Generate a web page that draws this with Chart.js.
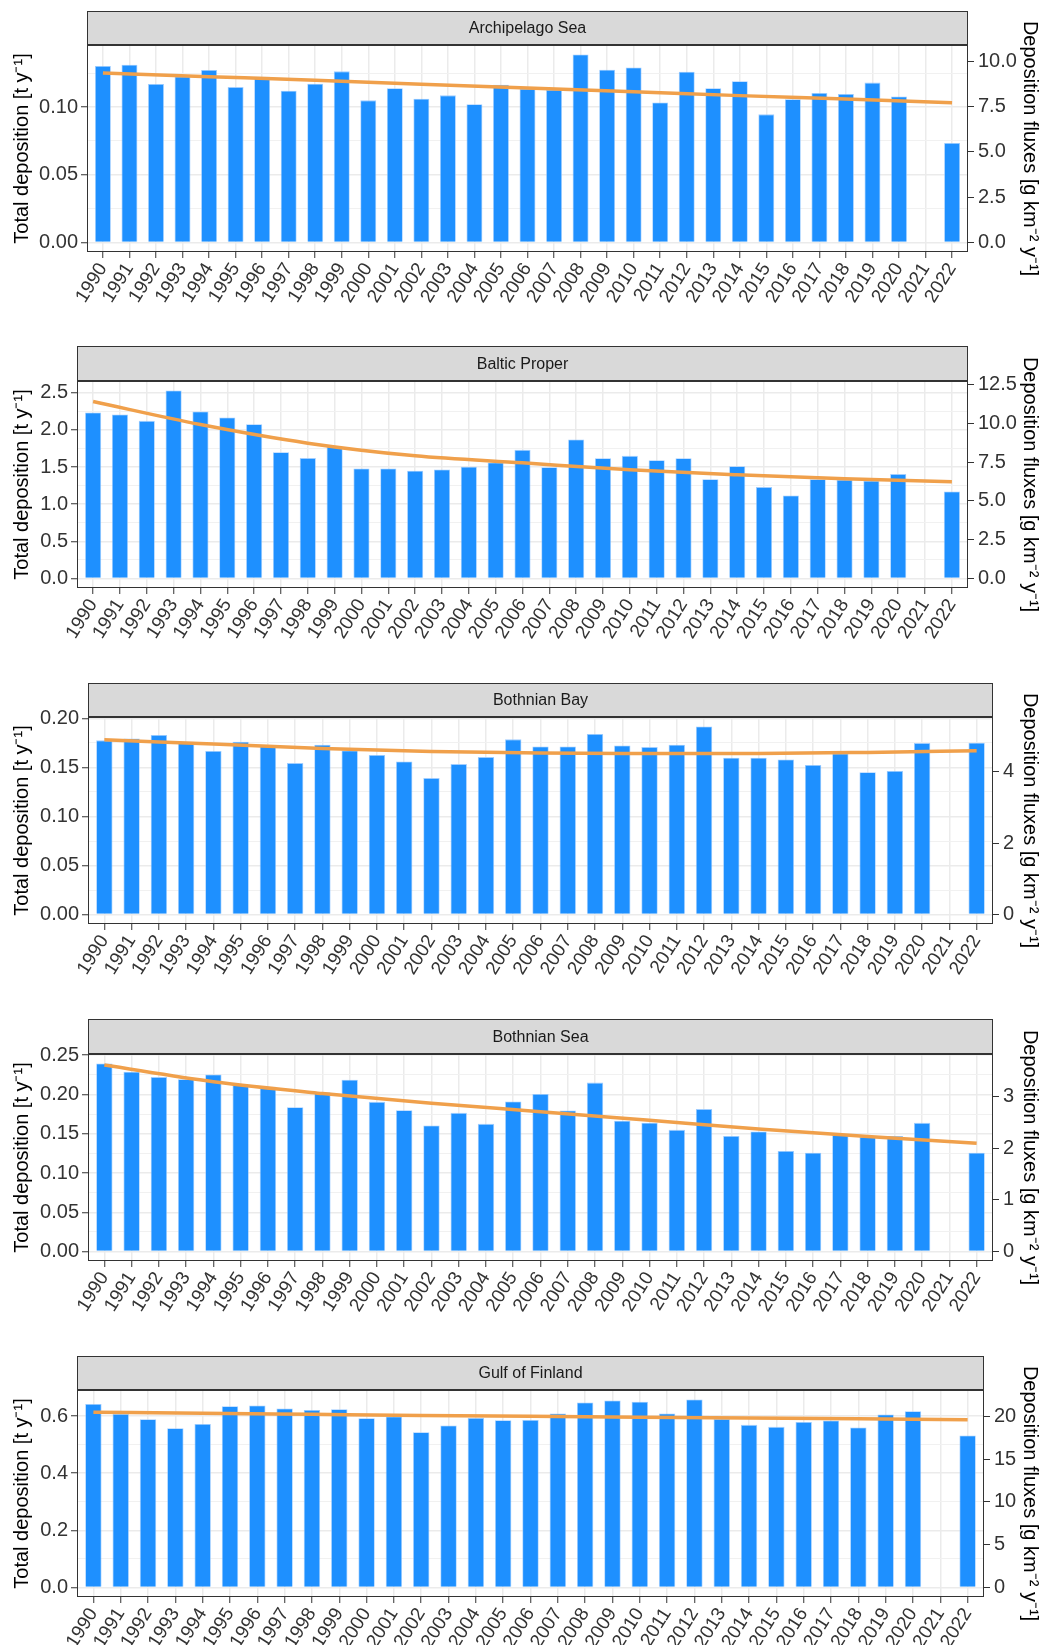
<!DOCTYPE html>
<html>
<head>
<meta charset="utf-8">
<script src="https://cdn.jsdelivr.net/npm/chart.js@4.4.1/dist/chart.umd.min.js"></script>
<style>
  html, body { margin: 0; padding: 0; background: #ffffff; width: 1051px; height: 1645px; overflow: hidden; }
  canvas { position: absolute; left: 0; }
</style>
</head>
<body>
<canvas id="c0" width="1051" height="336" style="top:0px"></canvas>
<canvas id="c1" width="1051" height="336" style="top:335px"></canvas>
<canvas id="c2" width="1051" height="336" style="top:672px"></canvas>
<canvas id="c3" width="1051" height="336" style="top:1008px"></canvas>
<canvas id="c4" width="1051" height="336" style="top:1345px"></canvas>
<script>
// ---------------- DATA ----------------
const years = [1990,1991,1992,1993,1994,1995,1996,1997,1998,1999,2000,2001,2002,2003,2004,2005,2006,2007,2008,2009,2010,2011,2012,2013,2014,2015,2016,2017,2018,2019,2020,2021,2022];

const panelTitles = ['Archipelago Sea', 'Baltic Proper', 'Bothnian Bay', 'Bothnian Sea', 'Gulf of Finland'];

const archipelagoDep = [0.1302,0.1312,0.1170,0.1226,0.1273,0.1147,0.1224,0.1120,0.1172,0.1263,0.1049,0.1138,0.1061,0.1086,0.1020,0.1165,0.1135,0.1128,0.1388,0.1275,0.1292,0.1034,0.1260,0.1138,0.1190,0.0946,0.1057,0.1104,0.1096,0.1180,0.1078,null,0.0735];
const balticDep = [2.233,2.206,2.121,2.530,2.246,2.166,2.076,1.700,1.620,1.776,1.480,1.480,1.449,1.466,1.503,1.561,1.731,1.498,1.870,1.619,1.650,1.592,1.619,1.337,1.512,1.230,1.117,1.337,1.328,1.315,1.405,null,1.171];
const bothnianBayDep = [0.1776,0.1796,0.1830,0.1762,0.1667,0.1762,0.1724,0.1544,0.1731,0.1672,0.1626,0.1561,0.1391,0.1534,0.1605,0.1786,0.1714,0.1714,0.1840,0.1724,0.1707,0.1731,0.1918,0.1599,0.1599,0.1582,0.1524,0.1643,0.1452,0.1463,0.1748,null,0.1752];
const bothnianSeaDep = [0.2394,0.2288,0.2220,0.2194,0.2254,0.2120,0.2096,0.1837,0.2028,0.2186,0.1905,0.1799,0.1604,0.1765,0.1625,0.1910,0.2005,0.1796,0.2150,0.1666,0.1640,0.1549,0.1813,0.1472,0.1527,0.1280,0.1259,0.1485,0.1463,0.1472,0.1638,null,0.1259];
const gulfDep = [0.642,0.607,0.589,0.557,0.572,0.634,0.637,0.626,0.621,0.624,0.592,0.598,0.543,0.567,0.593,0.585,0.586,0.609,0.647,0.654,0.650,0.609,0.658,0.590,0.569,0.562,0.579,0.584,0.560,0.605,0.617,null,0.532];

const trendYears = [1990,1994,1998,2002,2006,2010,2014,2018,2022];
const archipelagoTrend = [0.1251,0.1224,0.1197,0.1167,0.1140,0.1113,0.1084,0.1059,0.1032];
const balticTrend = [2.380,2.071,1.821,1.651,1.556,1.462,1.395,1.341,1.301];
const bothnianBayTrend = [0.1782,0.1738,0.1694,0.1663,0.1646,0.1643,0.1643,0.1653,0.1670];
const bothnianSeaTrend = [0.2373,0.2160,0.2011,0.1888,0.1780,0.1670,0.1560,0.1465,0.1378];
const gulfTrend = [0.613,0.610,0.606,0.602,0.599,0.596,0.593,0.590,0.587];

// flux per unit deposition (secondary axis scale)
const fluxFactors = [74.67, 4.785, 27.47, 15.22, 33.4];

// tick labels
const archipelagoLeftTicks = [0.00, 0.05, 0.10];
const balticLeftTicks = [0.0, 0.5, 1.0, 1.5, 2.0, 2.5];
const bothnianBayLeftTicks = [0.00, 0.05, 0.10, 0.15, 0.20];
const bothnianSeaLeftTicks = [0.00, 0.05, 0.10, 0.15, 0.20, 0.25];
const gulfLeftTicks = [0.0, 0.2, 0.4, 0.6];

const archipelagoRightTicks = [0.0, 2.5, 5.0, 7.5, 10.0];
const balticRightTicks = [0.0, 2.5, 5.0, 7.5, 10.0, 12.5];
const bothnianBayRightTicks = [0, 2, 4];
const bothnianSeaRightTicks = [0, 1, 2, 3];
const gulfRightTicks = [0, 5, 10, 15, 20];

// ---------------- LAYOUT / STYLE ----------------
const panels = [
  { dep: archipelagoDep, trend: archipelagoTrend, left: archipelagoLeftTicks, right: archipelagoRightTicks, ldec: 2, rdec: 1,
    box: { l: 87, r: 968, top: 45, bottom: 252 } },
  { dep: balticDep, trend: balticTrend, left: balticLeftTicks, right: balticRightTicks, ldec: 1, rdec: 1,
    box: { l: 77, r: 968, top: 46, bottom: 253 } },
  { dep: bothnianBayDep, trend: bothnianBayTrend, left: bothnianBayLeftTicks, right: bothnianBayRightTicks, ldec: 2, rdec: 0,
    box: { l: 88, r: 993, top: 45, bottom: 252 } },
  { dep: bothnianSeaDep, trend: bothnianSeaTrend, left: bothnianSeaLeftTicks, right: bothnianSeaRightTicks, ldec: 2, rdec: 0,
    box: { l: 88, r: 993, top: 46, bottom: 253 } },
  { dep: gulfDep, trend: gulfTrend, left: gulfLeftTicks, right: gulfRightTicks, ldec: 1, rdec: 0,
    box: { l: 77, r: 984, top: 45, bottom: 252 } }
];

const W = 1051, H = 336, STRIP_TOP = 11;
const FONT = '"Liberation Sans", Arial, Helvetica, sans-serif';
const BAR_COLOR = '#1E90FF';
const LINE_COLOR = '#F0A04B';
const GRID_MAJOR = '#EBEBEB';
const GRID_MINOR = '#F1F1F1';
const DARK = '#333333';

Chart.defaults.font.family = FONT;

const panelDecor = {
  id: 'panelDecor',
  afterDraw(chart, args, opts) {
    const { ctx, chartArea: a } = chart;
    ctx.save();
    ctx.fillStyle = '#D9D9D9';
    ctx.fillRect(a.left, STRIP_TOP, a.right - a.left, a.top - STRIP_TOP);
    ctx.strokeStyle = DARK;
    ctx.lineWidth = 1;
    ctx.strokeRect(a.left + 0.5, STRIP_TOP + 0.5, a.right - a.left - 1, a.top - STRIP_TOP - 1);
    ctx.fillStyle = '#1A1A1A';
    ctx.font = '16px ' + FONT;
    ctx.textAlign = 'center';
    ctx.textBaseline = 'middle';
    ctx.fillText(opts.title, (a.left + a.right) / 2, (STRIP_TOP + a.top) / 2 + 1);
    ctx.strokeRect(a.left + 0.5, a.top + 0.5, a.right - a.left - 1, a.bottom - a.top - 1);
    ctx.restore();
  }
};

function isMultiple(v, step) {
  const q = v / step;
  return Math.abs(q - Math.round(q)) < 1e-6;
}

panels.forEach((p, idx) => {
  const maxVal = Math.max(...p.dep.filter(v => v !== null));
  const yMin = -0.05 * maxVal;
  const yMax = 1.05 * maxVal;
  const majorStep = p.left[1] - p.left[0];
  const minorStep = majorStep / 2;
  const allTicks = [];
  for (let k = 0; k * minorStep <= yMax + 1e-9; k++) allTicks.push(+(k * minorStep).toFixed(6));
  const f = fluxFactors[idx];
  const b = p.box;

  new Chart(document.getElementById('c' + idx), {
    type: 'bar',
    data: {
      datasets: [
        {
          type: 'line',
          data: trendYears.map((yr, i) => ({ x: yr, y: p.trend[i] })),
          borderColor: LINE_COLOR,
          borderWidth: 3.5,
          pointRadius: 0,
          cubicInterpolationMode: 'monotone',
          fill: false,
          order: 0,
          yAxisID: 'y'
        },
        {
          type: 'bar',
          data: years.map((yr, i) => ({ x: yr, y: p.dep[i] })),
          backgroundColor: BAR_COLOR,
          borderColor: 'rgba(150,200,255,0.9)',
          borderWidth: 0.8,
          barPercentage: 0.6,
          categoryPercentage: 1.0,
          order: 1,
          yAxisID: 'y'
        }
      ]
    },
    options: {
      responsive: false,
      animation: false,
      devicePixelRatio: 1,
      layout: { padding: { top: b.top, left: 0, right: 0, bottom: 0 } },
      plugins: {
        legend: { display: false },
        tooltip: { enabled: false },
        panelDecor: { title: panelTitles[idx] }
      },
      scales: {
        x: {
          type: 'linear',
          min: years[0] - 0.6,
          max: years[years.length - 1] + 0.6,
          offset: false,
          afterBuildTicks: s => { s.ticks = years.map(v => ({ value: v })); },
          ticks: {
            autoSkip: false,
            maxRotation: 58,
            minRotation: 58,
            padding: 1,
            color: DARK,
            font: { size: 19 },
            callback: v => String(v)
          },
          grid: { color: GRID_MAJOR, lineWidth: 1.5, offset: false, drawTicks: true, tickLength: 6, tickColor: DARK, tickWidth: 1 },
          border: { display: false },
          afterFit: s => { s.height = H - b.bottom; }
        },
        y: {
          type: 'linear',
          position: 'left',
          min: yMin,
          max: yMax,
          afterBuildTicks: s => { s.ticks = allTicks.map(v => ({ value: v })); },
          ticks: {
            autoSkip: false,
            padding: 3,
            color: DARK,
            font: { size: 20 },
            callback: v => isMultiple(v, majorStep) ? v.toFixed(p.ldec) : ''
          },
          grid: {
            color: c => (c.tick && isMultiple(c.tick.value, majorStep)) ? GRID_MAJOR : GRID_MINOR,
            lineWidth: c => (c.tick && isMultiple(c.tick.value, majorStep)) ? 1.5 : 1.0,
            drawTicks: true,
            tickLength: 6,
            tickColor: c => (c.tick && isMultiple(c.tick.value, majorStep)) ? DARK : 'rgba(0,0,0,0)',
            tickWidth: 1
          },
          border: { display: false },
          title: {
            display: true,
            text: 'Total deposition [t y\u207B\u00B9]',
            color: '#000000',
            font: { size: 20 },
            padding: { top: 10, bottom: 0 }
          },
          afterFit: s => { s.width = b.l; }
        },
        y2: {
          type: 'linear',
          position: 'right',
          min: yMin * f,
          max: yMax * f,
          afterBuildTicks: s => { s.ticks = p.right.map(v => ({ value: v })); },
          ticks: {
            autoSkip: false,
            padding: 4,
            color: DARK,
            font: { size: 20 },
            callback: v => v.toFixed(p.rdec)
          },
          grid: { drawOnChartArea: false, drawTicks: true, tickLength: 6, color: DARK, tickColor: DARK, tickWidth: 1 },
          border: { display: false },
          title: {
            display: true,
            text: 'Deposition fluxes [g km\u207B\u00B2 y\u207B\u00B9]',
            color: '#000000',
            font: { size: 20 },
            padding: { top: 9, bottom: 0 }
          },
          afterFit: s => { s.width = W - b.r; }
        }
      }
    },
    plugins: [panelDecor]
  });
});
</script>
</body>
</html>
